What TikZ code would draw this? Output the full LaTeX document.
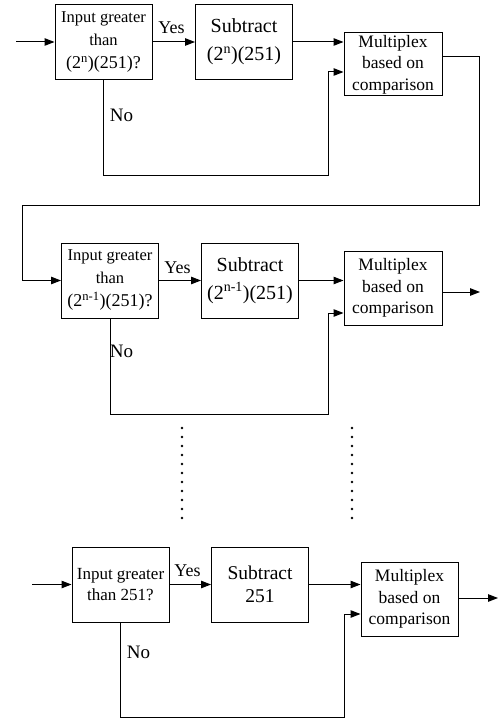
\documentclass[tikz,border=0pt]{standalone}
\usepackage{fontspec}
\setmainfont{Liberation Serif}
\usetikzlibrary{arrows.meta}
\begin{document}
\begin{tikzpicture}[x=1pt,y=-1pt,
  box/.style={draw,line width=1pt,inner sep=0pt,align=center},
  cmpbox/.style={box,minimum width=97pt,minimum height=75pt,
    font=\fontsize{16.5}{23}\selectfont},
  subbox/.style={box,minimum width=97pt,minimum height=75pt,
    font=\fontsize{20}{28}\selectfont},
  muxbox/.style={box,minimum width=98pt,minimum height=74pt,
    font=\fontsize{17.5}{21.7}\selectfont},
  wire/.style={line width=1pt},
  arr/.style={wire,-{Triangle[length=10pt,width=7.5pt]}},
  lbl/.style={inner sep=0pt},
  yeslbl/.style={lbl,font=\fontsize{18}{20}\selectfont},
  nolbl/.style={lbl,font=\fontsize{19}{21}\selectfont},
  dot/.style={fill=black}]
\useasboundingbox (0,0) rectangle (499,719);

% ---- first stage: 2^n ----
\node[cmpbox] (c1) at (103.5,42) {Input greater\\than\\{\fontsize{18}{23}\selectfont(2\textsuperscript{n})(251)?}};
\node[subbox] (d1) at (244,42) {Subtract\\(2\textsuperscript{n})(251)};
\node[muxbox,minimum height=63pt] (m1) at (393,64.5) {Multiplex\\based on\\comparison};
\coordinate (s1) at (16,42);
\coordinate (n1) at (328,176);
\coordinate (m1in) at (m1.west |- 0,72);
\coordinate (m1out) at (m1.east |- 0,57);
\coordinate (r1) at (479,206);
\coordinate (l1) at (22,206);
\draw[arr] (s1) -- (c1.west);
\draw[arr] (c1.east) -- (d1.west);
\draw[arr] (d1.east) -- (d1.east -| m1.west);
\draw[arr] (c1.south) |- (n1) |- (m1in);
\node[yeslbl] (y1) at (171.5,28) {Yes};
\node[nolbl] (o1) at (121.5,115) {No};

% ---- second stage: 2^(n-1) ----
\node[cmpbox] (c2) at (110,280.5) {Input greater\\than\\{\fontsize{18}{23}\selectfont(2\textsuperscript{n-1})(251)?}};
\node[subbox] (d2) at (250,280.5) {Subtract\\(2\textsuperscript{n-1})(251)};
\node[muxbox] (m2) at (393,288) {Multiplex\\based on\\comparison};
\draw[arr] (m1out) -| (r1) -- (l1) |- (c2.west);
\coordinate (n2) at (328,414);
\coordinate (m2in) at (m2.west |- 0,313);
\coordinate (m2out) at (m2.east |- 0,292);
\coordinate (e2) at (480,292);
\draw[arr] (c2.east) -- (d2.west);
\draw[arr] (d2.east) -- (d2.east -| m2.west);
\draw[arr] (c2.south) |- (n2) |- (m2in);
\draw[arr] (m2out) -- (e2);
\node[yeslbl] (y2) at (177.5,268) {Yes};
\node[nolbl] (o2) at (121.5,351) {No};

% ---- continuation dots ----
\foreach \i in {0,...,10} {
  \fill[dot] (182,428+9*\i) circle (1.4);
  \fill[dot] (352,428+9*\i) circle (1.4);
}

% ---- last stage: 251 ----
\node[cmpbox,font=\fontsize{17}{21.7}\selectfont] (c3) at (120.5,584.5) {Input greater\\than 251?};
\node[subbox,font=\fontsize{19.5}{23}\selectfont] (d3) at (260,584.5) {Subtract\\251};
\node[muxbox,minimum width=97pt] (m3) at (409.5,599) {Multiplex\\based on\\comparison};
\coordinate (s3) at (32,584.5);
\coordinate (n3) at (344,717);
\coordinate (m3in) at (m3.west |- 0,614);
\coordinate (m3out) at (m3.east |- 0,598);
\coordinate (e3) at (498,598);
\draw[arr] (s3) -- (c3.west);
\draw[arr] (c3.east) -- (d3.west);
\draw[arr] (d3.east) -- (d3.east -| m3.west);
\draw[arr] (c3.south) |- (n3) |- (m3in);
\draw[arr] (m3out) -- (e3);
\node[yeslbl] (y3) at (187.5,571) {Yes};
\node[nolbl] (o3) at (138.5,652) {No};
\end{tikzpicture}
\end{document}
